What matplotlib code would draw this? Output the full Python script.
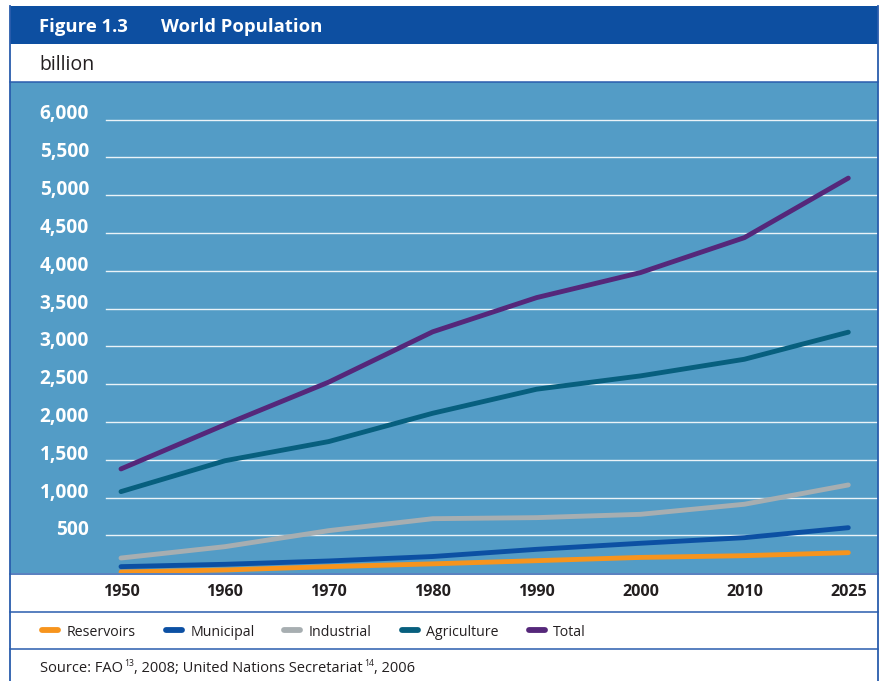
import matplotlib
matplotlib.use("Agg")
import matplotlib.pyplot as plt
from matplotlib.lines import Line2D
from matplotlib.patches import Rectangle

# ---------------- data ----------------
years = ['1950', '1960', '1970', '1980', '1990', '2000', '2010', '2025']
reservoirs = [17, 44, 88, 125, 167, 210, 233, 273]
municipal = [88, 119, 163, 222, 317, 397, 471, 603]
industrial = [202, 352, 564, 722, 736, 780, 913, 1168]
agriculture = [1080, 1488, 1742, 2116, 2434, 2610, 2830, 3188]
total = [1380, 1965, 2528, 3193, 3645, 3976, 4438, 5225]
series_names = ['Reservoirs', 'Municipal', 'Industrial', 'Agriculture', 'Total']
yticks = [500, 1000, 1500, 2000, 2500, 3000, 3500, 4000, 4500, 5000, 5500, 6000]
title_num = 'Figure 1.3'
title_text = 'World Population'
unit_text = 'billion'
source_parts = [('Source: FAO', False), ('13', True), (', 2008; United Nations Secretariat', False),
                ('14', True), (', 2006', False)]

colors = {'Reservoirs': '#F7941D', 'Municipal': '#0C50A3', 'Industrial': '#A7AEB1',
          'Agriculture': '#075F7E', 'Total': '#55277A'}
values = {'Reservoirs': reservoirs, 'Municipal': municipal, 'Industrial': industrial,
          'Agriculture': agriculture, 'Total': total}

FONT = 'Open Sans'
W, H = 885, 681
fig = plt.figure(figsize=(W / 100, H / 100), dpi=100)
fig.patch.set_facecolor('white')
renderer = fig.canvas.get_renderer()


def fx(x):
    return x / W


def fy(y):
    return 1 - y / H


def fit(s, target, weight='normal'):
    t = fig.text(0, 0, s, fontsize=10, weight=weight, family=FONT)
    w = t.get_window_extent(renderer).width
    t.remove()
    return 10 * target / w


BORDER = '#2A5DAD'
TITLE_BG = '#0D4FA1'
PLOT_BG = '#539CC6'
DARK = '#231F20'

L, R = 10, 878
fig.add_artist(Rectangle((fx(L), fy(44)), fx(R) - fx(L), fy(6) - fy(44),
                         transform=fig.transFigure, facecolor=TITLE_BG, edgecolor='none', zorder=0))

ax_top, ax_bot = 82, 573.3
ax = fig.add_axes([fx(L), fy(ax_bot), fx(R) - fx(L), fy(ax_top) - fy(ax_bot)])
ax.set_facecolor(PLOT_BG)
x0_px, dx_px = 121, 103.9
ax.set_xlim(-(x0_px - L) / dx_px, 7 + (R - (x0_px + 7 * dx_px)) / dx_px)
y6000 = 119.5
ax.set_ylim(0, 6000 * (ax_bot - ax_top) / (ax_bot - y6000))
for sp in ax.spines.values():
    sp.set_visible(False)

for v in yticks:
    ax.axhline(v, xmin=(106 - L) / (R - L), xmax=1, color='#EAF3F8', lw=1.0, zorder=1)

xs = list(range(len(years)))
for name in series_names:
    ax.plot(xs, values[name], color=colors[name], lw=3.5, solid_capstyle='round',
            solid_joinstyle='round', zorder=3)

ysize = fit('6,000', 49.5, 'bold')
ax.set_yticks(yticks)
ax.set_yticklabels([f'{v:,}' for v in yticks])
ax.tick_params(axis='y', length=0, pad=-(89 - L) * 0.72, labelsize=ysize, labelcolor='white')
for lab in ax.get_yticklabels():
    lab.set_fontweight('bold')
    lab.set_family(FONT)
    lab.set_verticalalignment('baseline')

xsize = fit('1950', 37, 'bold')
ax.set_xticks(xs)
ax.set_xticklabels(years)
ax.tick_params(axis='x', length=0, pad=(592 - ax_bot) * 0.72, labelsize=xsize, labelcolor=DARK)
for lab in ax.get_xticklabels():
    lab.set_fontweight('bold')
    lab.set_family(FONT)
    lab.set_verticalalignment('center')

tsize = fit(title_text, 161, 'bold')
fig.text(fx(39.3), fy(25), title_num, color='white', weight='bold', family=FONT,
         fontsize=tsize, va='center_baseline')
fig.text(fx(160.7), fy(25), title_text, color='white', weight='bold', family=FONT,
         fontsize=tsize, va='center_baseline')
usize = fit(unit_text, 55.5)
fig.text(fx(39.3), fy(62.5), unit_text, color=DARK, family=FONT, fontsize=usize, va='center_baseline')

for yy in [81.5, 573.5, 612, 649]:
    fig.add_artist(Line2D([fx(L), fx(R)], [fy(yy), fy(yy)], transform=fig.transFigure,
                          color=BORDER, lw=1.1, zorder=5))
fig.add_artist(Line2D([fx(L), fx(L)], [fy(6), fy(H + 2)], transform=fig.transFigure,
                      color=BORDER, lw=1.3, zorder=5))
fig.add_artist(Line2D([fx(R), fx(R)], [fy(6), fy(H + 2)], transform=fig.transFigure,
                      color=BORDER, lw=1.3, zorder=5))

lsize = fit('Reservoirs', 68.5)
lx = 40
ly = 630
for name in series_names:
    fig.add_artist(Line2D([fx(lx + 2), fx(lx + 18)], [fy(ly), fy(ly)], transform=fig.transFigure,
                          color=colors[name], lw=4.2, solid_capstyle='round'))
    t = fig.text(fx(lx + 26.5), fy(ly), name, color=DARK, family=FONT, fontsize=lsize,
                 va='center_baseline')
    w = t.get_window_extent(renderer).width
    lx = lx + 26.5 + w + 28

full = ''.join(p for p, sup in source_parts if not sup)
ssize = fit(full, 352)
sx = 40
sy = 666
for part, sup in source_parts:
    if sup:
        t = fig.text(fx(sx + 1.5), fy(sy - 4), part, color=DARK, family=FONT, fontsize=ssize * 0.6,
                     va='center_baseline')
        w = t.get_window_extent(renderer).width + 1.5
    else:
        t = fig.text(fx(sx), fy(sy), part, color=DARK, family=FONT, fontsize=ssize,
                     va='center_baseline')
        w = t.get_window_extent(renderer).width
    sx += w

fig.savefig('out.png', dpi=100, facecolor='white')
